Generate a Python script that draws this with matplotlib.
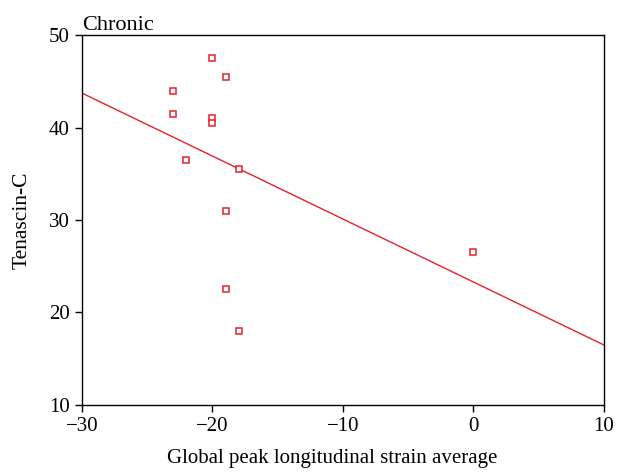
import numpy as np
import matplotlib
matplotlib.use("Agg")
import matplotlib.pyplot as plt

plt.rcParams['font.family'] = ['Liberation Serif', 'DejaVu Serif']

strain = [-20, -19, -23, -23, -20, -20, -22, -18, -19, 0, -19, -18]
tenascin = [47.5, 45.5, 44, 41.5, 41, 40.5, 36.5, 35.5, 31, 26.5, 22.5, 18]
xticks = [-30, -20, -10, 0, 10]
yticks = [10, 20, 30, 40, 50]

fig = plt.figure(figsize=(6.22, 4.72), dpi=100)
ax = fig.add_axes([0.1318, 0.142, 0.971 - 0.1318, 0.9258 - 0.142])

red = '#e8202a'
ax.plot(strain, tenascin, linestyle='none', marker='s', markersize=5,
        markerfacecolor='white', markeredgecolor=red, markeredgewidth=1.1, zorder=3)

slope, intercept = np.polyfit(strain, tenascin, 1)
xl = np.array([-30, 10])
ax.plot(xl, slope * xl + intercept, color=red, linewidth=1.0, zorder=2)

ax.set_xlim(-30, 10)
ax.set_ylim(10, 50)
ax.set_xticks(xticks)
ax.set_yticks(yticks)
ax.set_xticklabels(['\u221230', '\u221220', '\u221210', '0', '10'])
ax.tick_params(direction='out', length=5, width=1, labelsize=15, pad=4,
               top=False, right=False)
for s in ax.spines.values():
    s.set_linewidth(1.0)
ax.set_xlabel('Global peak longitudinal strain average', fontsize=15)
ax.xaxis.set_label_coords(0.479, -0.118)
ax.set_ylabel('Tenascin-C', fontsize=15.5, labelpad=12)
ax.set_title('Chronic', loc='left', fontsize=16, pad=3)

fig.savefig('out.png', dpi=100)
